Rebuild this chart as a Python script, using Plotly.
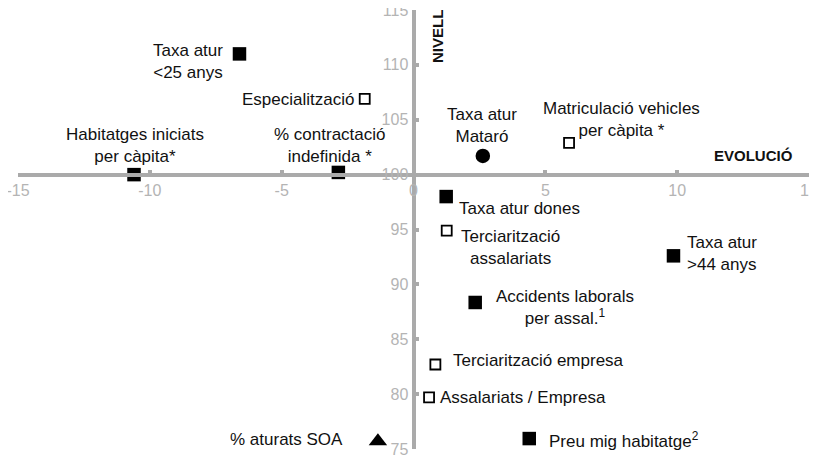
import plotly.graph_objects as go

# ---------------- data ----------------
labels = [
    "Taxa atur<br><25 anys",
    "Especialització",
    "Habitatges iniciats<br>per càpita*",
    "% contractació<br>indefinida *",
    "Taxa atur<br>Mataró",
    "Matriculació vehicles<br>per càpita *",
    "Taxa atur dones",
    "Terciarització<br>assalariats",
    "Taxa atur<br>>44 anys",
    "Accidents laborals<br>per assal.<sup>1</sup>",
    "Terciarització empresa",
    "Assalariats / Empresa",
    "% aturats SOA",
    "Preu mig habitatge<sup>2</sup>",
]
evolucio = [-6.6, -1.85, -10.6, -2.85, 2.63, 5.9, 1.24, 1.26, 9.86, 2.34, 0.83, 0.59, -1.35, 4.39]
nivell = [111.0, 106.9, 100.0, 100.2, 101.7, 102.9, 98.0, 94.9, 92.6, 88.35, 82.7, 79.7, 75.7, 75.95]
grup = ["ple", "buit", "ple", "ple", "cercle", "buit", "ple", "buit", "ple", "ple", "buit", "buit", "triangle", "ple"]

x_ticks = [-15, -10, -5, 0, 5, 10, 15]
x_ticktext = ["-15", "-10", "-5", "0", "5", "10", "15"]
y_ticks = [75, 80, 85, 90, 95, 100, 105, 110, 115]
y_ticktext = ["75", "80", "85", "90", "95", "100", "105", "110", "115"]

# ---------------- label placement (anchor, dx px, dy px downwards, align) ----------------
label_pos = [
    ("center", -51, 8, "center"),
    ("right", -9, 0.5, "right"),
    ("center", 1, -29.5, "center"),
    ("center", -8, -26.5, "center"),
    ("center", -1, -30, "center"),
    ("center", 52, -23.5, "center"),
    ("left", 11, 11.5, "left"),
    ("center", 64, 16.5, "center"),
    ("left", 12, -2, "left"),
    ("center", 90, 5.5, "center"),
    ("left", 16, -3.5, "left"),
    ("left", 9, 0.5, "left"),
    ("right", -33, -2, "right"),
    ("left", 17.5, 1.5, "left"),
]

FONT = "Liberation Sans, Arial, Helvetica, sans-serif"
AXIS_COLOR = "#aaaaaa"
TICK_COLOR = "#b4b4b4"
INK = "#111111"

styles = {
    "ple": dict(symbol="square", size=13.5, color="black"),
    "buit": dict(symbol="square-open", size=10, color="black", line=dict(width=1.8, color="black")),
    "cercle": dict(symbol="circle", size=14.5, color="black"),
    "triangle": dict(symbol="triangle-up", size=16, color="black"),
}

fig = go.Figure()
for g, st in styles.items():
    idx = [i for i, v in enumerate(grup) if v == g]
    fig.add_trace(go.Scatter(
        x=[evolucio[i] for i in idx],
        y=[nivell[i] for i in idx],
        mode="markers",
        marker=st,
        hoverinfo="skip",
        showlegend=False,
        cliponaxis=False,
    ))

annotations = []
for i, txt in enumerate(labels):
    anchor, dx, dy, align = label_pos[i]
    annotations.append(dict(
        x=evolucio[i], y=nivell[i], xref="x", yref="y",
        text=txt, showarrow=False,
        xanchor=anchor, yanchor="middle", align=align,
        xshift=dx, yshift=-dy,
        font=dict(family=FONT, size=17, color=INK),
    ))

annotations.append(dict(
    x=0, y=1, xref="x", yref="paper", text="<b>NIVELL</b>", textangle=-90,
    showarrow=False, xanchor="center", yanchor="top", xshift=24, yshift=2,
    font=dict(family=FONT, size=15, color=INK),
))
annotations.append(dict(
    x=1, y=101.7, xref="paper", yref="y", text="<b>EVOLUCIÓ</b>",
    showarrow=False, xanchor="right", yanchor="middle", xshift=-14,
    font=dict(family=FONT, size=15, color=INK),
))

axis_common = dict(
    anchor="free", showline=True, linecolor=AXIS_COLOR, linewidth=4,
    ticks="inside", ticklen=3, tickwidth=4, tickcolor=AXIS_COLOR,
    showgrid=False, zeroline=False, automargin=False,
    ticklabeloverflow="allow",
    tickfont=dict(family=FONT, size=16, color=TICK_COLOR),
)
# overlay axes that only add the tick stubs on the other side of each axis line
overlay_common = dict(
    anchor="free", showline=False, ticks="outside", ticklen=3, tickwidth=4,
    tickcolor=AXIS_COLOR, showticklabels=False, showgrid=False, zeroline=False,
    automargin=False,
)

x_pos = (100 - 75) / (115 - 75)

# the page body adds an 8px offset, so the figure is sized to fill the rest of the window
fig.update_layout(
    width=809, height=449,
    margin=dict(l=9.5, r=8, t=2, b=8),
    paper_bgcolor="white", plot_bgcolor="white",
    showlegend=False,
    xaxis=dict(range=[-15, 15], position=x_pos,
               tickvals=x_ticks, ticktext=x_ticktext, **axis_common),
    yaxis=dict(range=[75, 115], position=0.5,
               tickvals=y_ticks, ticktext=y_ticktext, **axis_common),
    xaxis2=dict(range=[-15, 15], overlaying="x", position=x_pos,
                tickvals=x_ticks, **overlay_common),
    yaxis2=dict(range=[75, 115], overlaying="y", position=0.5,
                tickvals=y_ticks, **overlay_common),
    annotations=annotations,
)

fig.write_html("out.html")
